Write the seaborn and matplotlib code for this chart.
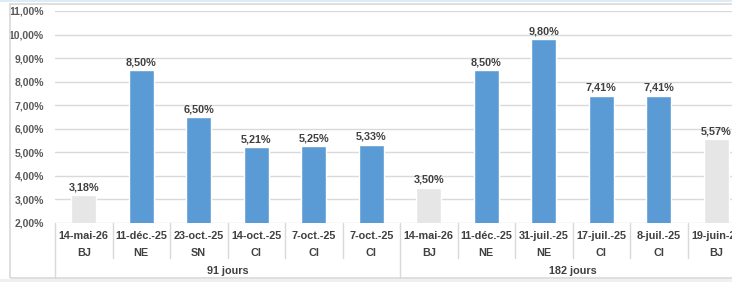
import matplotlib
matplotlib.use("Agg")
import matplotlib.pyplot as plt
import matplotlib.patches as mpatches
from matplotlib.lines import Line2D
import seaborn as sns
import pandas as pd

dates = ["14-mai-26", "11-déc.-25", "23-oct.-25", "14-oct.-25", "7-oct.-25", "7-oct.-25",
         "14-mai-26", "11-déc.-25", "31-juil.-25", "17-juil.-25", "8-juil.-25", "19-juin-26"]
countries = ["BJ", "NE", "SN", "CI", "CI", "CI", "BJ", "NE", "NE", "CI", "CI", "BJ"]
groups = ["91 jours", "182 jours"]
group_sizes = [6, 6]
rates = [3.18, 8.50, 6.50, 5.21, 5.25, 5.33, 3.50, 8.50, 9.80, 7.41, 7.41, 5.57]
y_ticks = [2, 3, 4, 5, 6, 7, 8, 9, 10, 11]

BLUE = "#5B9BD5"
GRAY = "#E7E6E6"
TXT = "#404040"
LINE = "#D9D9D9"
FS = 7.8

sns.set_theme(style="white")
plt.rcParams["font.family"] = ["Liberation Sans", "DejaVu Sans"]

W, H = 732, 282
fig = plt.figure(figsize=(W / 100, H / 100), dpi=100)
fig.patch.set_facecolor("white")

# axes geometry in pixels
x0, x1 = 55, 745
ytop, ybot = 11, 223
ax = fig.add_axes([x0 / W, (H - ybot) / H, (x1 - x0) / W, (ybot - ytop) / H])

df = pd.DataFrame({
    "pos": [str(i) for i in range(len(rates))],
    "rate": rates,
    "kind": ["BJ" if c == "BJ" else "other" for c in countries],
})
sns.barplot(data=df, x="pos", y="rate", hue="kind", palette={"BJ": GRAY, "other": BLUE},
            dodge=False, width=0.43, legend=False, ax=ax, saturation=1)

ax.set_xlim(-0.5, len(rates) - 0.5)
ax.set_ylim(2, 11)
ax.set_yticks(y_ticks)
ax.set_yticklabels([f"{v:.2f}".replace(".", ",") + "%" for v in y_ticks],
                   fontsize=7.5, fontweight="bold", color="#595959")
ax.tick_params(axis="y", length=0, pad=8)
ax.set_xticks([])
ax.set_xlabel("")
ax.set_ylabel("")
ax.grid(axis="y", color=LINE, linewidth=1)
ax.set_axisbelow(True)
for s in ax.spines.values():
    s.set_visible(False)

for cont in ax.containers:
    labels = [f"{b.get_height():.2f}".replace(".", ",") + "%" if b.get_height() > 0 else "" for b in cont]
    ax.bar_label(cont, labels=labels, padding=2, fontsize=FS, fontweight="bold", color=TXT)

# category axis rows
tr = ax.get_xaxis_transform()
def ay(py):
    # convert pixel y (from top) to axes fraction
    return (ybot - py) / (ybot - ytop)

for i, (d, c) in enumerate(zip(dates, countries)):
    ax.text(i, ay(236), d, transform=tr, ha="center", va="center", fontsize=FS,
            fontweight="bold", color=TXT, clip_on=False)
    ax.text(i, ay(253), c, transform=tr, ha="center", va="center", fontsize=FS,
            fontweight="bold", color=TXT, clip_on=False)

start = 0
for g, n in zip(groups, group_sizes):
    ax.text(start + (n - 1) / 2, ay(271), g, transform=tr, ha="center", va="center",
            fontsize=FS, fontweight="bold", color=TXT, clip_on=False)
    start += n

# separators
bounds = set()
acc = 0
for n in group_sizes:
    acc += n
    bounds.add(acc)
ax.add_line(Line2D([-0.5, -0.5], [ay(223), ay(278)], transform=tr, color=LINE, lw=1, clip_on=False))
for k in range(1, len(rates)):
    bottom = ay(278) if k in bounds else ay(258)
    ax.add_line(Line2D([k - 0.5, k - 0.5], [0, bottom], transform=tr, color=LINE, lw=1, clip_on=False))

# outer chart frame
fig.patches.append(mpatches.Rectangle((10 / W, (H - 278) / H), 1, (278 - 4) / H,
                                      transform=fig.transFigure, fill=False,
                                      edgecolor="#D9D9D9", lw=1.2))
fig.patches.append(mpatches.Rectangle((0, 0), 1, (H - 279) / H, transform=fig.transFigure,
                                      facecolor="#F0F0F0", edgecolor="none"))
fig.patches.append(mpatches.Rectangle((0, (H - 1.5) / H), 1, 1.5 / H, transform=fig.transFigure,
                                      facecolor="#DDEBF7", edgecolor="none"))

fig.savefig("out.png", dpi=100)
